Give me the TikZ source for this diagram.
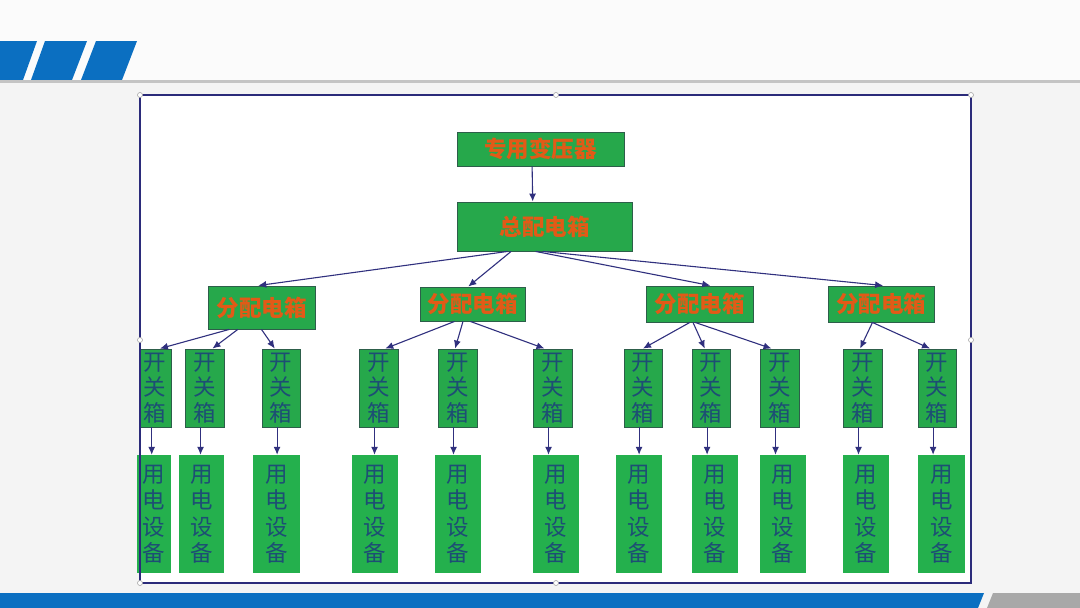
\documentclass[tikz,border=0pt]{standalone}
\usepackage{fontspec}
\newfontfamily\cjk{Noto Sans CJK SC}
\usetikzlibrary{calc,arrows.meta}
\definecolor{bgc}{HTML}{F4F4F4}
\definecolor{stripe}{HTML}{0B6FC1}
\definecolor{rulegray}{HTML}{C4C4C4}
\definecolor{framec}{HTML}{2B2B7A}
\definecolor{boxg}{HTML}{26A84B}
\definecolor{boxg2}{HTML}{24B04D}
\definecolor{boxb}{HTML}{2D5E4A}
\definecolor{orangetxt}{HTML}{E25A17}
\definecolor{navytxt}{HTML}{1D4E74}
\definecolor{arrc}{HTML}{30307E}
\definecolor{barg}{HTML}{A8A8A8}
\newcommand\lnk[4]{\draw[arr] ($(#1.south west)!#2!(#1.south east)$) -- ($(#3.north west)!#4!(#3.north east)$);}
\tikzset{
  topbox/.style={draw=boxb, line width=0.9pt, fill=boxg, inner sep=0pt, text=orangetxt,
    font=\cjk\bfseries\fontsize{22.5}{24}\selectfont},
  kbox/.style={draw=boxb, line width=0.9pt, fill=boxg, inner sep=0pt, minimum height=78pt,
    text=navytxt, align=center, font=\cjk\fontsize{22.5}{25.5}\selectfont},
  ebox/.style={fill=boxg2, inner sep=0pt, minimum height=118pt,
    text=navytxt, align=center, font=\cjk\fontsize{22.5}{26.5}\selectfont},
  arr/.style={draw=arrc, line width=1.1pt, -{Latex[length=8pt,width=7pt]}},
  handle/.style={circle, draw=gray!70, fill=white, line width=0.6pt, inner sep=0pt, minimum size=5pt}
}
\begin{document}
\begin{tikzpicture}[x=1pt,y=-1pt]
\useasboundingbox (0,0) rectangle (1080,608);
% background
\fill[bgc] (0,0) rectangle (1080,608);
\fill[white!60!bgc] (0,0) rectangle (1080,80);
% top stripes
\fill[stripe] (0,41) -- (37,41) -- (23,80) -- (0,80) -- cycle;
\fill[stripe] (45,41) -- (87,41) -- (72,80) -- (31,80) -- cycle;
\fill[stripe] (96,41) -- (137,41) -- (122,80) -- (81,80) -- cycle;
\fill[rulegray] (0,80) rectangle (1080,83);
% bottom bar
\fill[stripe] (0,593) -- (984,593) -- (978,608) -- (0,608) -- cycle;
\fill[barg] (993,593) -- (1080,593) -- (1080,608) -- (987,608) -- cycle;
% frame interior
\fill[white] (140,95) rectangle (971,583);
% top boxes
\node[topbox, minimum width=167pt, minimum height=34pt] (p) at (540.5,149) {专用变压器};
\node[topbox, minimum width=175pt, minimum height=49pt] (t) at (544.5,226.5) {总配电箱};
\node[topbox, minimum width=107pt, minimum height=43pt] (d1) at (261.5,307.5) {分配电箱};
\node[topbox, minimum width=105pt, minimum height=34pt] (d2) at (472.5,304) {分配电箱};
\node[topbox, minimum width=107pt, minimum height=36pt] (d3) at (699.5,304) {分配电箱};
\node[topbox, minimum width=106pt, minimum height=36pt] (d4) at (881,304) {分配电箱};
% switch boxes
\foreach \i/\cx/\w in {1/155/32, 2/204.5/39, 3/281/38, 4/378.5/39, 5/457.5/39, 6/552.5/39,
  7/643/38, 8/711/38, 9/779.5/39, 10/862.5/39, 11/937/38}
  \node[kbox, minimum width=\w pt] (k\i) at (\cx,388) {开\\关\\箱};
% equipment boxes
\foreach \i/\cx/\w in {1/154/34, 2/201.5/45, 3/276.5/47, 4/375/46, 5/458/46, 6/556/46,
  7/639/46, 8/715/46, 9/783/46, 10/866/46, 11/941.5/47}
  \node[ebox, minimum width=\w pt] (e\i) at (\cx,514) {用\\电\\设\\备};
% connectors
\lnk{p}{0.45}{t}{0.433}
\lnk{t}{0.29}{d1}{0.47}
\lnk{t}{0.31}{d2}{0.46}
\lnk{t}{0.45}{d3}{0.60}
\lnk{t}{0.49}{d4}{0.52}
\lnk{d1}{0.2}{k1}{0.65}
\lnk{d1}{0.28}{k2}{0.7}
\lnk{d1}{0.5}{k3}{0.34}
\lnk{d2}{0.33}{k4}{0.67}
\lnk{d2}{0.41}{k5}{0.44}
\lnk{d2}{0.48}{k6}{0.3}
\lnk{d3}{0.41}{k7}{0.5}
\lnk{d3}{0.44}{k8}{0.34}
\lnk{d3}{0.46}{k9}{0.3}
\lnk{d4}{0.42}{k10}{0.44}
\lnk{d4}{0.42}{k11}{0.32}
\foreach \i in {1,...,11} {
  \coordinate (s\i) at ($(k\i.south west)!0.4!(k\i.south east)$);
  \draw[arr] (s\i) -- (s\i |- e\i.north);
}
% frame
\draw[framec, line width=2.2pt] (140,95) rectangle (971,583);
\foreach \n/\hx/\hy in {h1/140/95, h2/556/95, h3/971/95, h4/140/340, h5/971/340, h6/140/583, h7/556/583}
  \node[handle] (\n) at (\hx,\hy) {};
\end{tikzpicture}
\end{document}
